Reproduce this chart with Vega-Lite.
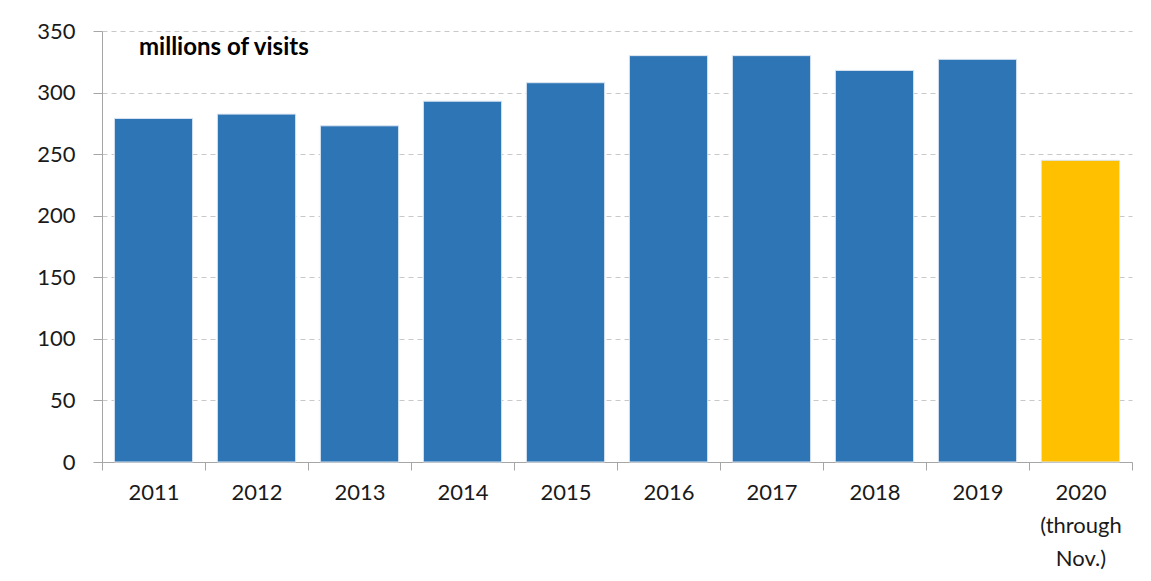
{
  "$schema": "https://vega.github.io/schema/vega-lite/v6.json",
  "autosize": "none",
  "width": 1030,
  "height": 431,
  "padding": {"left": 102, "top": 31, "right": 19, "bottom": 119},
  "background": "white",
  "title": {"text": "millions of visits", "anchor": "start", "frame": "group", "orient": "top", "dx": 37, "dy": 40, "baseline": "top", "offset": 0, "font": "Lato", "fontSize": 24, "fontWeight": "bold", "color": "#000000"},
  "data": {"values": [
    {"year": "2011", "visits": 279, "kind": "full"},
    {"year": "2012", "visits": 282.5, "kind": "full"},
    {"year": "2013", "visits": 273, "kind": "full"},
    {"year": "2014", "visits": 293, "kind": "full"},
    {"year": "2015", "visits": 308, "kind": "full"},
    {"year": "2016", "visits": 330, "kind": "full"},
    {"year": "2017", "visits": 330, "kind": "full"},
    {"year": "2018", "visits": 318, "kind": "full"},
    {"year": "2019", "visits": 327, "kind": "full"},
    {"year": "2020", "visits": 245, "kind": "partial"}
  ]},
  "mark": {"type": "bar", "stroke": "#dbe6f2", "strokeWidth": 1, "width": {"band": 0.76}},
  "encoding": {
    "x": {"field": "year", "type": "ordinal", "scale": {"paddingInner": 0, "paddingOuter": 0},
      "axis": {"title": null, "labelAngle": 0, "labelFont": "Lato", "labelFontSize": 22, "labelColor": "#1a1a1a",
        "labelExpr": "datum.value == '2020' ? ['2020', '(through', 'Nov.)'] : datum.value",
        "labelLineHeight": 33, "labelPadding": 12, "tickSize": 8, "tickBand": "extent", "ticks": true,
        "domainColor": "#a6a6a6", "tickColor": "#a6a6a6", "grid": false}},
    "y": {"field": "visits", "type": "quantitative", "scale": {"domain": [0, 350], "nice": false},
      "axis": {"title": null, "values": [0, 50, 100, 150, 200, 250, 300, 350], "labelFont": "Lato", "labelFontSize": 22, "labelColor": "#1a1a1a",
        "labelPadding": 18, "tickSize": 9, "domainColor": "#a6a6a6", "tickColor": "#a6a6a6",
        "gridColor": "#c8c8c8", "gridDash": [5, 4], "gridWidth": 1}},
    "color": {"field": "kind", "type": "nominal", "scale": {"domain": ["full", "partial"], "range": ["#2e75b6", "#ffc000"]}, "legend": null}
  },
  "config": {"view": {"stroke": null}}
}
